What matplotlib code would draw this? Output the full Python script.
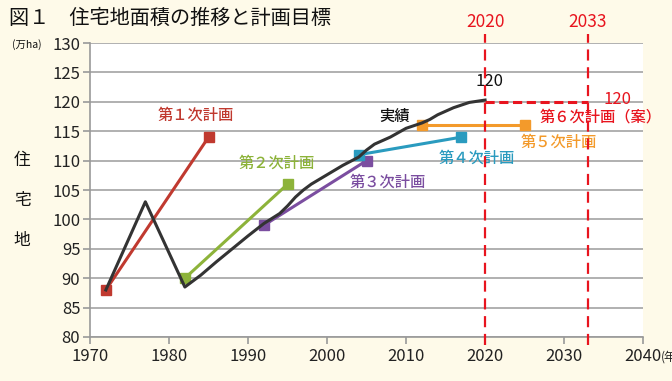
import matplotlib
matplotlib.use("Agg")
from matplotlib import pyplot as plt

plt.rcParams['font.family'] = ['Noto Sans CJK JP', 'DejaVu Sans']

# 実績 (actual)
actual_years = [1972, 1977, 1982, 1984, 1986, 1988, 1990, 1992, 1994, 1995, 1996, 1997,
                1998, 2000, 2002, 2004, 2005, 2006, 2008, 2010, 2012, 2013, 2014, 2016,
                2018, 2020]
actual_vals = [88, 103, 88.5, 90.5, 92.8, 95, 97.2, 99.3, 101, 102.3, 103.8, 105,
               106, 107.6, 109.2, 110.6, 111.8, 112.8, 114, 115.5, 116.4, 117, 117.8, 119,
               119.9, 120.3]

# 計画 (plans): start/end year and target
plan_names = ["第１次計画", "第２次計画", "第３次計画", "第４次計画", "第５次計画"]
plan_years = [(1972, 1985), (1982, 1995), (1992, 2005), (2004, 2017), (2012, 2025)]
plan_vals = [(88, 114), (90, 106), (99, 110), (111, 114), (116, 116)]
plan_colors = ["#c0392f", "#8db33a", "#7b4ea0", "#2a9bbf", "#f39a2b"]
plan_label_pos = [(1983.4, 117.8), (1993.6, 109.6), (2007.7, 106.4), (2019.0, 110.4), (2029.3, 113.2)]

plan6_years = [2020, 2033]
plan6_val = 120

bg = "#fefae9"
red = "#e8141e"

fig = plt.figure(figsize=(6.72, 3.81), dpi=100, facecolor=bg)
ax = fig.add_axes([0.134, 0.1155, 0.823, 0.7715])
ax.set_facecolor("white")

ax.set_xlim(1970, 2040)
ax.set_ylim(80, 130)
ax.set_xticks(range(1970, 2041, 10))
ax.set_yticks(range(80, 131, 5))
ax.grid(axis="y", color="#aaaaaa", lw=1.3)
ax.set_axisbelow(True)
for s in ["top", "right"]:
    ax.spines[s].set_visible(False)
for s in ["left", "bottom"]:
    ax.spines[s].set_color("#999999")
    ax.spines[s].set_linewidth(1.2)
ax.tick_params(axis="both", labelsize=12, colors="#999999", labelcolor="#222222", length=5, width=1.2)
ax.tick_params(axis="x", pad=3)
ax.tick_params(axis="y", pad=2)

# plans
for name, yrs, vals, c, pos in zip(plan_names, plan_years, plan_vals, plan_colors, plan_label_pos):
    ax.plot(yrs, vals, color=c, lw=2.2, marker="s", ms=7, zorder=3)
    ax.text(pos[0], pos[1], name, color=c, fontsize=11, ha="center", va="center", fontweight="medium")

# actual
ax.plot(actual_years, actual_vals, color="#333333", lw=2.2, zorder=4)
ax.text(2008.5, 117.5, "実績", color="#111111", fontsize=11, ha="center", va="center", fontweight="medium")
ax.text(2020.5, 123.4, "120", color="#111111", fontsize=12, ha="center", va="center")

# 6th plan (draft)
ax.plot(plan6_years, [plan6_val, plan6_val], color=red, lw=2.2, ls=(0, (3, 1.5)), zorder=5)
for yr in plan6_years:
    ax.plot([yr, yr], [78.6, 131.5], color=red, lw=1.6, ls=(0, (5, 3)), clip_on=False, zorder=5)
    ax.text(yr, 132.0, str(yr), color=red, fontsize=12.5, ha="center", va="bottom", clip_on=False)
ax.text(2036.7, 120.4, "120", color=red, fontsize=12, ha="center", va="center", clip_on=False)
ax.text(2034.6, 117.5, "第６次計画（案）", color=red, fontsize=11, ha="center", va="center",
        clip_on=False, fontweight="medium")

# titles and axis labels
fig.text(0.014, 0.952, "図１　住宅地面積の推移と計画目標", fontsize=14.5, color="#111111", va="center")
fig.text(0.018, 0.884, "(万ha)", fontsize=7.5, color="#111111", va="center")
for ch, yp in zip("住宅地", [0.58, 0.475, 0.37]):
    fig.text(0.033, yp, ch, fontsize=12, color="#111111", ha="center", va="center")
fig.text(0.984, 0.062, "(年)", fontsize=8.5, color="#222222", va="center")

plt.savefig("out.png", dpi=100, facecolor=bg)
